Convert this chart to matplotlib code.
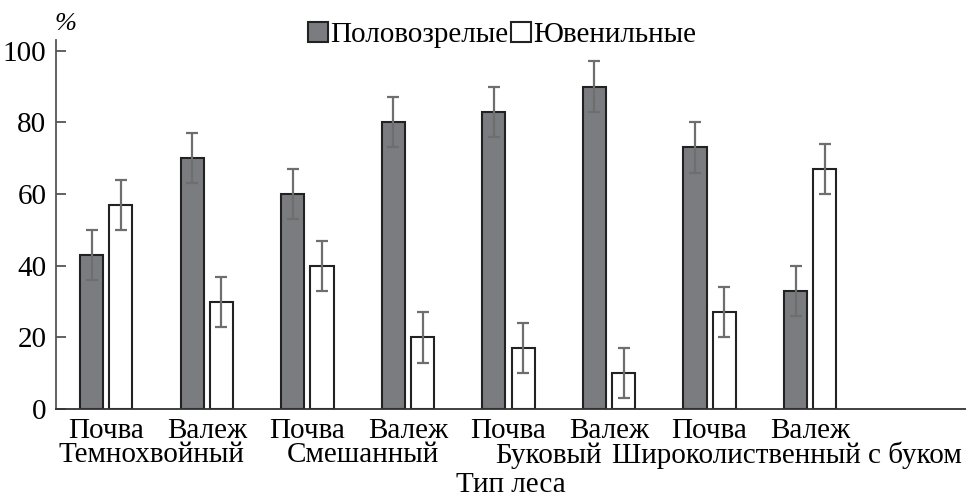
import numpy as np
import matplotlib.pyplot as plt

plt.rcParams['font.family'] = ['Liberation Serif', 'DejaVu Serif']

substrates = ["Почва", "Валеж", "Почва", "Валеж", "Почва", "Валеж", "Почва", "Валеж"]
forest_types = ["Темнохвойный", "Смешанный", "Буковый", "Широколиственный с буком"]
mature = [43, 70, 60, 80, 83, 90, 73, 33]
juvenile = [57, 30, 40, 20, 17, 10, 27, 67]
mature_err = [7, 7, 7, 7, 7, 7, 7, 7]
juvenile_err = [7, 7, 7, 7, 7, 7, 7, 7]

fig = plt.figure(figsize=(9.66, 4.99), dpi=100)
ax = fig.add_axes([0.058, 0.18, 0.942, 0.74])

x = np.arange(len(substrates))
w = 0.23
off = 0.145
err_kw = dict(ecolor="#6e6e6e", elinewidth=1.6, capsize=4, capthick=1.6)
ax.bar(x - off, mature, w, yerr=mature_err, color="#7b7c80", edgecolor="#222222",
       linewidth=1.5, error_kw=err_kw, label="Половозрелые")
ax.bar(x + off, juvenile, w, yerr=juvenile_err, color="white", edgecolor="#222222",
       linewidth=1.5, error_kw=err_kw, label="Ювенильные")

ax.set_xlim(-0.5, 8.55)
ax.set_ylim(0, 103)
ax.set_yticks([0, 20, 40, 60, 80, 100])
ax.tick_params(axis="y", labelsize=21, length=7, width=1.3, color="#555555",
               direction="in", pad=7)
ax.set_xticks(x)
ax.set_xticklabels(substrates, fontsize=21)
ax.tick_params(axis="x", length=0, pad=6)
for s in ["top", "right"]:
    ax.spines[s].set_visible(False)
ax.spines["left"].set_color("#555555")
ax.spines["left"].set_linewidth(1.3)
ax.spines["bottom"].set_color("#333333")
ax.spines["bottom"].set_linewidth(1.3)

# forest type names under the pairs
type_pos = [0.45, 2.55, 4.4, 6.77]
for pos, name in zip(type_pos, forest_types):
    ax.text(pos, -0.125, name, transform=ax.get_xaxis_transform(),
            ha="center", va="center", fontsize=21)
ax.text(0.5, -0.205, "Тип леса", transform=ax.transAxes,
        ha="center", va="center", fontsize=21)
fig.text(0.068, 0.952, "%", fontsize=19, style="italic", ha="center", va="center")

ax.legend(loc="upper center", bbox_to_anchor=(0.49, 1.12), ncol=2, frameon=False,
          fontsize=21, handlelength=0.7, handleheight=0.7, handletextpad=0.05,
          columnspacing=0.1)

fig.savefig("out.png", dpi=100)
